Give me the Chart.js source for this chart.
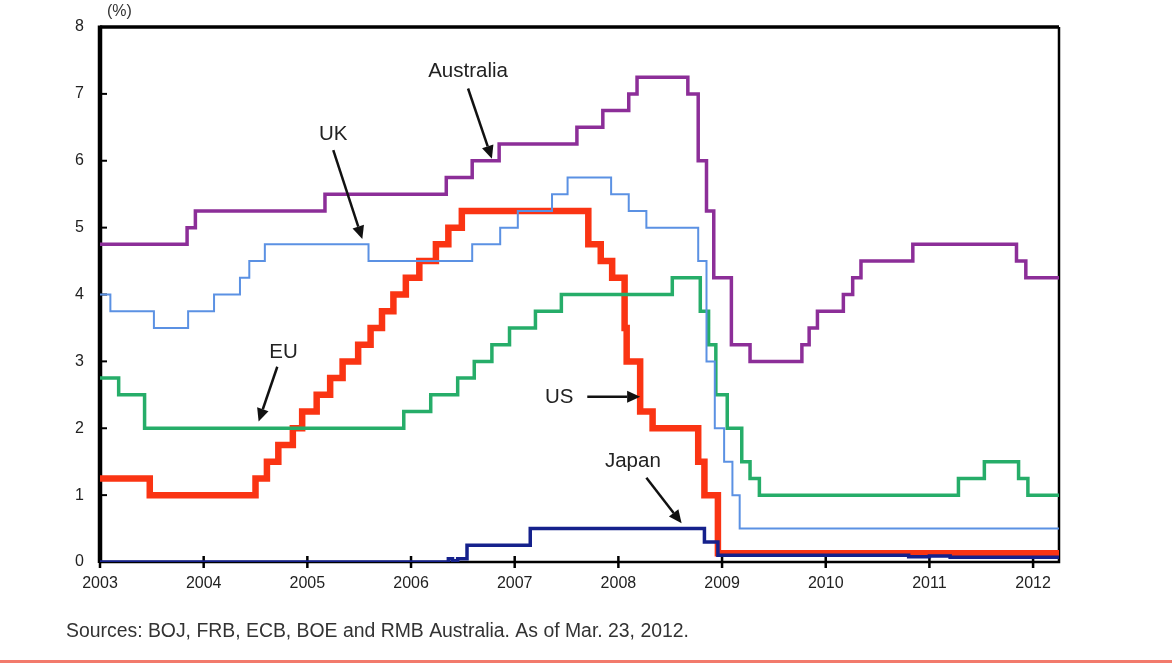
<!DOCTYPE html>
<html>
<head>
<meta charset="utf-8">
<title>Policy rates</title>
<script src="https://cdn.jsdelivr.net/npm/chart.js@4.4.1/dist/chart.umd.min.js"></script>
<style>
  html, body { margin: 0; padding: 0; background: #fff; }
  canvas { display: block; }
</style>
</head>
<body>
<canvas id="rateChart" width="1172" height="664"></canvas>
<script>
// Policy rates (%), step series: each date is when the rate changed
const usDates = [2003.00, 2003.48, 2004.50, 2004.61, 2004.72, 2004.86, 2004.95, 2005.09, 2005.22, 2005.34, 2005.49, 2005.61, 2005.72, 2005.83, 2005.95, 2006.08, 2006.24, 2006.36, 2006.49, 2007.71, 2007.83, 2007.94, 2008.06, 2008.08, 2008.21, 2008.33, 2008.77, 2008.83, 2008.96, 2012.25];
const usRates = [1.25, 1.00, 1.25, 1.50, 1.75, 2.00, 2.25, 2.50, 2.75, 3.00, 3.25, 3.50, 3.75, 4.00, 4.25, 4.50, 4.75, 5.00, 5.25, 4.75, 4.50, 4.25, 3.50, 3.00, 2.25, 2.00, 1.50, 1.00, 0.13, 0.13];

const euDates = [2003.00, 2003.18, 2003.43, 2005.93, 2006.19, 2006.45, 2006.61, 2006.78, 2006.95, 2007.20, 2007.45, 2008.52, 2008.79, 2008.87, 2008.94, 2009.05, 2009.19, 2009.27, 2009.36, 2011.28, 2011.53, 2011.86, 2011.95, 2012.25];
const euRates = [2.75, 2.50, 2.00, 2.25, 2.50, 2.75, 3.00, 3.25, 3.50, 3.75, 4.00, 4.25, 3.75, 3.25, 2.50, 2.00, 1.50, 1.25, 1.00, 1.25, 1.50, 1.25, 1.00, 1.00];

const ukDates = [2003.00, 2003.10, 2003.52, 2003.85, 2004.10, 2004.35, 2004.44, 2004.59, 2005.59, 2006.59, 2006.86, 2007.03, 2007.36, 2007.51, 2007.93, 2008.10, 2008.27, 2008.77, 2008.85, 2008.93, 2009.02, 2009.10, 2009.17, 2012.25];
const ukRates = [4.00, 3.75, 3.50, 3.75, 4.00, 4.25, 4.50, 4.75, 4.50, 4.75, 5.00, 5.25, 5.50, 5.75, 5.50, 5.25, 5.00, 4.50, 3.00, 2.00, 1.50, 1.00, 0.50, 0.50];

const auDates = [2003.00, 2003.84, 2003.92, 2005.17, 2006.34, 2006.59, 2006.85, 2007.60, 2007.85, 2008.10, 2008.18, 2008.67, 2008.77, 2008.85, 2008.92, 2009.09, 2009.27, 2009.77, 2009.84, 2009.92, 2010.17, 2010.26, 2010.34, 2010.84, 2011.84, 2011.93, 2012.25];
const auRates = [4.75, 5.00, 5.25, 5.50, 5.75, 6.00, 6.25, 6.50, 6.75, 7.00, 7.25, 7.00, 6.00, 5.25, 4.25, 3.25, 3.00, 3.25, 3.50, 3.75, 4.00, 4.25, 4.50, 4.75, 4.50, 4.25, 4.25];

const jpDates = [2003.00, 2006.36, 2006.40, 2006.45, 2006.54, 2007.15, 2008.83, 2008.96, 2010.80, 2011.00, 2011.20, 2012.25];
const jpRates = [0.00, 0.05, 0.02, 0.05, 0.25, 0.50, 0.30, 0.10, 0.08, 0.09, 0.07, 0.08];

const yearTicks = [2003, 2004, 2005, 2006, 2007, 2008, 2009, 2010, 2011, 2012];
const rateTicks = [0, 1, 2, 3, 4, 5, 6, 7, 8];

// Callout labels with arrows, in data units (year, %)
const callouts = [
  { text: "Australia", at: [2006.55, 7.33], from: [2006.55, 7.08], to: [2006.78, 6.03] },
  { text: "UK", at: [2005.25, 6.40], from: [2005.25, 6.16], to: [2005.53, 4.83] },
  { text: "EU", at: [2004.77, 3.14], from: [2004.71, 2.92], to: [2004.53, 2.10] },
  { text: "US", at: [2007.43, 2.46], from: [2007.70, 2.47], to: [2008.21, 2.47] },
  { text: "Japan", at: [2008.14, 1.51], from: [2008.27, 1.26], to: [2008.61, 0.58] }
];

const FONT = "'Liberation Sans', Arial, Helvetica, sans-serif";

function toPoints(dates, rates) {
  return dates.map((d, i) => ({ x: d, y: rates[i] }));
}

function series(label, dates, rates, color, width) {
  return {
    label: label,
    data: toPoints(dates, rates),
    borderColor: color,
    backgroundColor: color,
    borderWidth: width,
    stepped: true,
    pointRadius: 0,
    borderJoinStyle: "miter",
    borderCapStyle: "butt",
    fill: false
  };
}

// Axis frame and inward tick marks
const framePlugin = {
  id: "frame",
  beforeDatasetsDraw(chart) {
    const { ctx, chartArea: a, scales } = chart;
    ctx.save();
    ctx.strokeStyle = "#000";
    ctx.lineWidth = 2.5;
    ctx.beginPath();
    ctx.moveTo(a.left, a.bottom);
    ctx.lineTo(a.right, a.bottom);
    ctx.lineTo(a.right, a.top);
    ctx.stroke();
    ctx.lineWidth = 3.5;
    ctx.beginPath();
    ctx.moveTo(a.left, a.top);
    ctx.lineTo(a.right, a.top);
    ctx.stroke();
    ctx.lineWidth = 4.5;
    ctx.beginPath();
    ctx.moveTo(a.left, a.bottom + 1);
    ctx.lineTo(a.left, a.top - 1.5);
    ctx.stroke();

    ctx.lineWidth = 2.5;
    scales.x.ticks.forEach(t => {
      const px = scales.x.getPixelForValue(t.value);
      ctx.beginPath();
      ctx.moveTo(px, a.bottom - 6);
      ctx.lineTo(px, a.bottom + 6);
      ctx.stroke();
    });
    ctx.lineWidth = 2;
    scales.y.ticks.forEach(t => {
      const py = scales.y.getPixelForValue(t.value);
      ctx.beginPath();
      ctx.moveTo(a.left, py);
      ctx.lineTo(a.left + 7, py);
      ctx.stroke();
    });
    ctx.restore();
  }
};

function drawArrow(ctx, x1, y1, x2, y2) {
  const ang = Math.atan2(y2 - y1, x2 - x1);
  const head = 13, half = 6;
  const bx = x2 - head * Math.cos(ang), by = y2 - head * Math.sin(ang);
  ctx.beginPath();
  ctx.moveTo(x1, y1);
  ctx.lineTo(bx, by);
  ctx.stroke();
  ctx.beginPath();
  ctx.moveTo(x2, y2);
  ctx.lineTo(bx + half * Math.sin(ang), by - half * Math.cos(ang));
  ctx.lineTo(bx - half * Math.sin(ang), by + half * Math.cos(ang));
  ctx.closePath();
  ctx.fill();
}

// Callouts, unit label, source note, bottom rule
const notesPlugin = {
  id: "notes",
  afterDraw(chart) {
    const { ctx, chartArea: a, scales: { x, y } } = chart;
    ctx.save();
    ctx.fillStyle = "#222";
    ctx.strokeStyle = "#111";
    ctx.lineWidth = 2.5;
    ctx.font = "20.5px " + FONT;
    ctx.textAlign = "center";
    ctx.textBaseline = "middle";
    callouts.forEach(c => {
      ctx.fillText(c.text, x.getPixelForValue(c.at[0]), y.getPixelForValue(c.at[1]));
      ctx.fillStyle = "#111";
      drawArrow(ctx,
        x.getPixelForValue(c.from[0]), y.getPixelForValue(c.from[1]),
        x.getPixelForValue(c.to[0]), y.getPixelForValue(c.to[1]));
      ctx.fillStyle = "#222";
    });

    ctx.font = "16px " + FONT;
    ctx.textAlign = "left";
    ctx.fillStyle = "#333";
    ctx.fillText("(%)", a.left + 7, a.top - 15);

    ctx.font = "19.4px " + FONT;
    ctx.fillStyle = "#333";
    ctx.fillText("Sources: BOJ, FRB, ECB, BOE and RMB Australia. As of Mar. 23, 2012.", 66, 632);

    ctx.fillStyle = "#f27a6c";
    ctx.fillRect(0, 660, chart.width, 3);
    ctx.restore();
  }
};

new Chart(document.getElementById("rateChart"), {
  type: "line",
  data: {
    datasets: [
      series("Japan", jpDates, jpRates, "#15218c", 3.5),
      series("UK", ukDates, ukRates, "#5b91e3", 2),
      series("EU", euDates, euRates, "#26ad69", 3.5),
      series("Australia", auDates, auRates, "#8c2e98", 3.5),
      series("US", usDates, usRates, "#fa3413", 6.5)
    ]
  },
  options: {
    responsive: false,
    animation: false,
    devicePixelRatio: 1,
    layout: { padding: { left: 0, right: 113, top: 27, bottom: 0 } },
    plugins: {
      legend: { display: false },
      tooltip: { enabled: false },
      title: { display: false }
    },
    scales: {
      x: {
        type: "linear",
        min: 2003,
        max: 2012.25,
        afterBuildTicks(axis) { axis.ticks = yearTicks.map(v => ({ value: v })); },
        afterFit(axis) { axis.height = 102; },
        grid: { display: false, drawTicks: false },
        border: { display: false },
        ticks: {
          padding: 12,
          color: "#222",
          font: { family: FONT, size: 16 },
          maxRotation: 0,
          callback: v => String(v)
        }
      },
      y: {
        type: "linear",
        min: 0,
        max: 8,
        afterBuildTicks(axis) { axis.ticks = rateTicks.map(v => ({ value: v })); },
        afterFit(axis) { axis.width = 100; },
        grid: { display: false, drawTicks: false },
        border: { display: false },
        ticks: {
          padding: 16,
          color: "#222",
          font: { family: FONT, size: 16 },
          callback: v => String(v)
        }
      }
    }
  },
  plugins: [framePlugin, notesPlugin]
});
</script>
</body>
</html>
